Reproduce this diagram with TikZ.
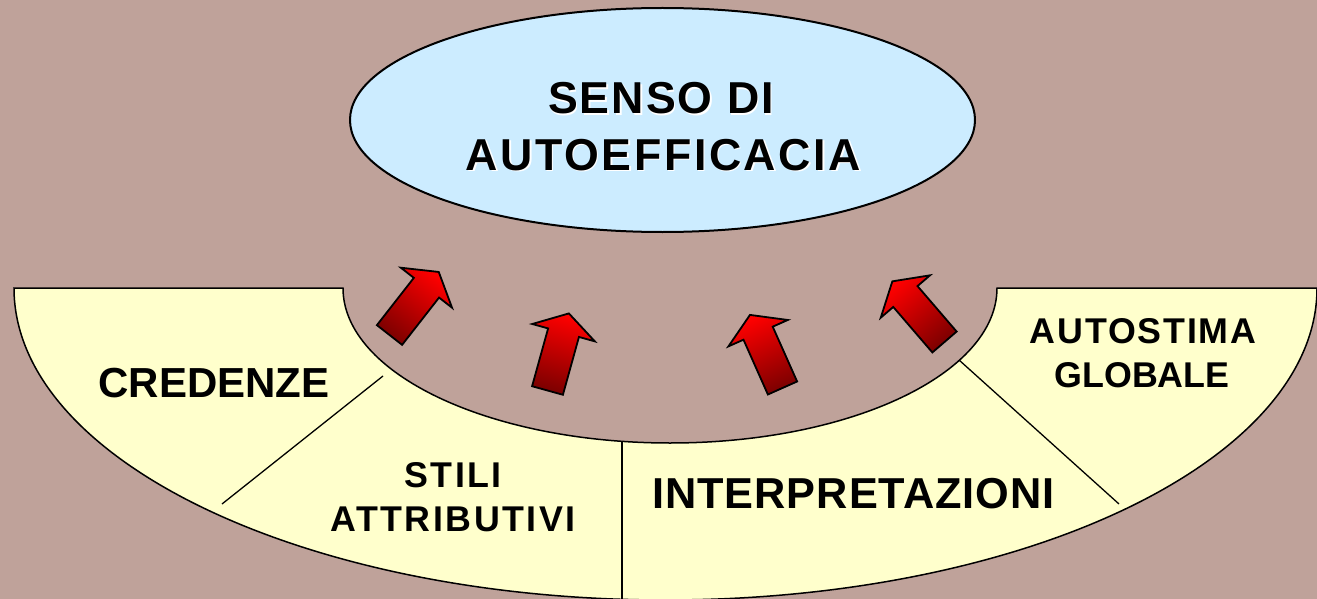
\documentclass[tikz,border=0pt]{standalone}
\usepackage{fontspec}
\setmainfont{Liberation Sans}
\usetikzlibrary{shapes.geometric}
\definecolor{bgc}{RGB}{191,162,154}
\definecolor{skyc}{RGB}{204,236,255}
\definecolor{creamc}{RGB}{255,255,204}
\definecolor{darkredc}{RGB}{125,0,0}
\definecolor{brightredc}{RGB}{255,0,0}
\begin{document}
\begin{tikzpicture}[x=1pt,y=-1pt,
  band/.style={draw=black, line width=1.5pt, fill=creamc, line join=miter},
  divider/.style={draw=black, line width=1.3pt},
  goalshape/.style={ellipse, draw=black, line width=2pt, fill=skyc, minimum width=625pt, minimum height=224pt, inner sep=0pt},
  lbl/.style={inner sep=0pt, anchor=base, text=black},
  bigfont/.style={font=\fontsize{44.7}{54}\selectfont\bfseries},
  midfont/.style={font=\fontsize{42}{50}\selectfont\bfseries},
  intfont/.style={font=\fontsize{43.3}{52}\selectfont\bfseries},
  smallfont/.style={font=\fontsize{35.8}{44}\selectfont\bfseries},
  redarrow/.style={draw=black, line width=1.8pt, line join=miter, top color=brightredc, bottom color=darkredc}
]
\useasboundingbox (0,0) rectangle (1317,599);
\clip (0,0) rectangle (1317,599);
\fill[bgc] (0,0) rectangle (1317,599);

% base band
\path[band] (14,288) -- (343,288)
  arc[start angle=180, end angle=0, x radius=327, y radius=155]
  -- (1317,288)
  arc[start angle=0, end angle=180, x radius=651.5, y radius=312] -- cycle;

% dividers
\coordinate (d1a) at (383,376);
\coordinate (d1b) at (222,504);
\coordinate (d2a) at (622,441);
\coordinate (d2b) at (622,600);
\coordinate (d3a) at (959,360);
\coordinate (d3b) at (1119,504);
\draw[divider] (d1a) -- (d1b);
\draw[divider] (d2a) -- (d2b);
\draw[divider] (d3a) -- (d3b);

% goal ellipse
\node[goalshape] (goal) at (662.5,120) {};
\node[lbl, bigfont, text=white] (g1s) at (662.5,115.5) {\addfontfeature{LetterSpace=4.5}SENSO DI};
\node[lbl, bigfont, text=white] (g2s) at (664.8,171.5) {\addfontfeature{LetterSpace=5.8}AUTOEFFICACIA};
\node[lbl, bigfont] (g1) at (661,114) {\addfontfeature{LetterSpace=4.5}SENSO DI};
\node[lbl, bigfont] (g2) at (663.3,170) {\addfontfeature{LetterSpace=5.8}AUTOEFFICACIA};

% band labels
\node[lbl, midfont] (cred) at (214,397) {CREDENZE};
\node[lbl, smallfont] (stili) at (453,487) {\addfontfeature{LetterSpace=7}STILI};
\node[lbl, smallfont] (attr) at (453,531) {\addfontfeature{LetterSpace=7}ATTRIBUTIVI};
\node[lbl, intfont] (interp) at (853.5,508) {\addfontfeature{LetterSpace=2.3}INTERPRETAZIONI};
\node[lbl, smallfont] (auto) at (1143,343) {\addfontfeature{LetterSpace=5}AUTOSTIMA};
\node[lbl, smallfont] (glob) at (1142,387) {GLOBALE};

% arrows
\path[redarrow, shift={(389.5,335)}, rotate=-38, shading angle=-38]
  (-16,0) -- (-16,-60) -- (-32.5,-60) -- (0,-80) -- (32.5,-60) -- (16,-60) -- (16,0) -- cycle;
\path[redarrow, shift={(547.5,390.5)}, rotate=-15.5, shading angle=-15.5]
  (-16,0) -- (-16,-60) -- (-32.5,-60) -- (0,-80) -- (32.5,-60) -- (16,-60) -- (16,0) -- cycle;
\path[redarrow, shift={(782.5,388)}, rotate=24, shading angle=24]
  (-16,0) -- (-16,-60) -- (-32.5,-60) -- (0,-80) -- (32.5,-60) -- (16,-60) -- (16,0) -- cycle;
\path[redarrow, shift={(944.5,342)}, rotate=40.7, shading angle=40.7]
  (-16,0) -- (-16,-60) -- (-32.5,-60) -- (0,-80) -- (32.5,-60) -- (16,-60) -- (16,0) -- cycle;
\end{tikzpicture}
\end{document}
